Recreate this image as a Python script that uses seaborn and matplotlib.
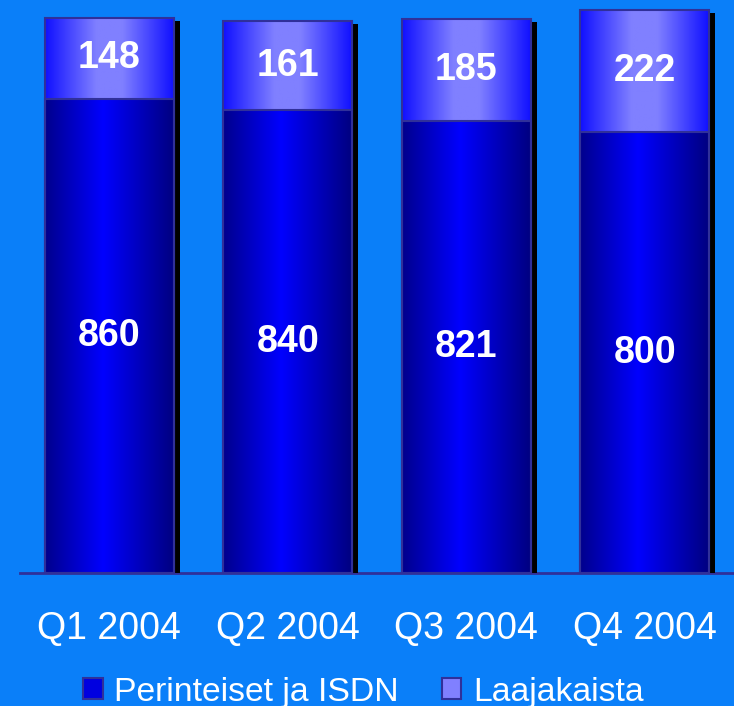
import numpy as np
import pandas as pd
import matplotlib
matplotlib.use("Agg")
import matplotlib.pyplot as plt
from matplotlib.colors import LinearSegmentedColormap
from matplotlib.patches import Rectangle
import matplotlib.transforms as mtransforms
import seaborn as sns

quarters = ["Q1 2004", "Q2 2004", "Q3 2004", "Q4 2004"]
perinteiset = [860, 840, 821, 800]
laajakaista = [148, 161, 185, 222]
series_names = ["Perinteiset ja ISDN", "Laajakaista"]

BG = "#0a7ff9"
EDGE = "#30309a"

sns.set_theme(style="white")
plt.rcParams['font.family'] = ['Liberation Sans', 'DejaVu Sans']

fig = plt.figure(figsize=(7.34, 7.06), dpi=100, facecolor=BG)
ax = fig.add_axes([20/734, (706-573)/706, 1 - 20/734, 573/706])
ax.set_facecolor(BG)

totals = [a + b for a, b in zip(perinteiset, laajakaista)]
df = pd.DataFrame({"quarter": quarters, "bottom": perinteiset, "total": totals})

sns.barplot(data=df, x="quarter", y="total", ax=ax, width=0.72, color="#8080ff",
            edgecolor=EDGE, linewidth=1.5, saturation=1)
sns.barplot(data=df, x="quarter", y="bottom", ax=ax, width=0.72, color="#0000ff",
            edgecolor=EDGE, linewidth=1.5, saturation=1)

n = len(quarters)
top_patches = ax.patches[:n]
bot_patches = ax.patches[n:2 * n]

cmap_bot = LinearSegmentedColormap.from_list("b", [(0, "#00008c"), (0.45, "#0000ff"), (1, "#000080")])
cmap_top = LinearSegmentedColormap.from_list("t", [(0, "#1010ff"), (0.4, "#8080ff"), (0.6, "#8080ff"), (1, "#1010ff")])
grad = np.linspace(0, 1, 256).reshape(1, -1)

for tp, bp in zip(top_patches, bot_patches):
    x0, w = tp.get_x(), tp.get_width()
    h = tp.get_height()
    sh = Rectangle((x0, 0), w, h, facecolor="black", edgecolor="none", zorder=0.5)
    ax.add_patch(sh)
    sh.set_transform(ax.transData + mtransforms.ScaledTranslation(6/100, -3/100, fig.dpi_scale_trans))
    for p, cm in ((tp, cmap_top), (bp, cmap_bot)):
        px0, py0 = p.get_x(), p.get_y()
        pw, ph = p.get_width(), p.get_height()
        if p is tp:
            py0 = bp.get_height()
            ph = tp.get_height() - bp.get_height()
        ax.imshow(grad, cmap=cm, aspect="auto", extent=(px0, px0 + pw, py0, py0 + ph),
                  zorder=1, interpolation="bicubic")
        p.set_facecolor("none")
        p.set_zorder(2)

for i, (b, t) in enumerate(zip(perinteiset, laajakaista)):
    ax.text(i, b / 2, f"{b}", ha="center", va="center", color="white",
            fontsize=27, fontweight="bold")
    ax.text(i, b + t / 2, f"{t}", ha="center", va="center", color="white",
            fontsize=27, fontweight="bold")

ax.set_xlim(-0.5, n - 0.5)
ax.set_ylim(0, 1040)
ax.set_xlabel("")
ax.set_ylabel("")
ax.set_yticks([])
ax.tick_params(axis="x", length=0, pad=27, labelsize=27, labelcolor="white")
for s in ["top", "left", "right"]:
    ax.spines[s].set_visible(False)
ax.spines["bottom"].set_color(EDGE)
ax.spines["bottom"].set_linewidth(2)
ax.spines["bottom"].set_zorder(0.4)

handles = [Rectangle((0, 0), 1, 1, facecolor="#0000e0", edgecolor=EDGE, linewidth=1.5),
           Rectangle((0, 0), 1, 1, facecolor="#8080ff", edgecolor=EDGE, linewidth=1.5)]
leg = fig.legend(handles, series_names, loc="center", bbox_to_anchor=(0.4952, 1 - 692/706),
                 ncol=2, frameon=False, fontsize=24.3, handlelength=0.58, handleheight=0.58,
                 handletextpad=0.35, columnspacing=1.27, borderaxespad=0, borderpad=0)
for t in leg.get_texts():
    t.set_color("white")

fig.savefig("out.png", dpi=100, facecolor=BG)
